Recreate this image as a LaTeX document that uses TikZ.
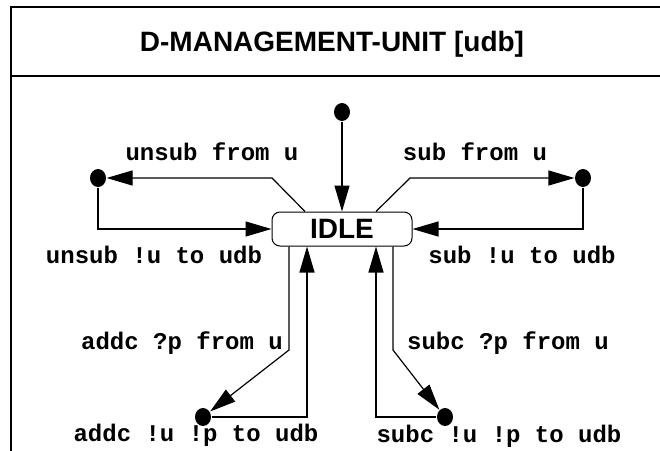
\documentclass[tikz,border=0pt]{standalone}
\usepackage{fontspec}
\setmainfont{Liberation Sans}
\newfontfamily\labelfont{Liberation Mono}
\usetikzlibrary{arrows.meta, positioning, calc, shapes.geometric}

\begin{document}
\begin{tikzpicture}[
        x=1pt, y=-1pt,
        line width=1.2pt,
        state/.style={
            draw,
            rounded corners=8pt,
            minimum width=140pt,
            minimum height=34pt,
            line width=1pt,
            font=\fontsize{28}{32}\selectfont\bfseries
        },
        dot/.style={
            ellipse,
            fill=black,
            inner sep=0pt,
            minimum width=16pt,
            minimum height=18pt
        },
        arrow/.style={
            -{Triangle[length=26pt, width=15pt]}
        },
        labeltext/.style={
            anchor=base,
            inner sep=0pt,
            font=\fontsize{24}{28}\labelfont\bfseries
        },
        titletext/.style={
            anchor=base,
            inner sep=0pt,
            font=\fontsize{28}{32}\selectfont\bfseries
        }
    ]

    \useasboundingbox (0,0) rectangle (660,450);
    \clip (0,0) rectangle (660,450);

    % frame with header
    \draw[line width=1.5pt] (11,470) -- (11,7) -- (680,7);
    \draw[line width=1.5pt] (11,76) -- (680,76);
    \node[titletext] (title) at (332,51) {D-MANAGEMENT-UNIT [udb]};

    \node[state] (idle) at (342,229) {IDLE};
    \node[dot] (init) at (342,112) {};
    \node[dot] (unsubdot) at (98,178) {};
    \node[dot] (subdot) at (583,178) {};
    \node[dot] (addcdot) at (203,417) {};
    \node[dot] (subcdot) at (445,417) {};

    \coordinate (unsubbend) at (272,178);
    \coordinate (subbend) at (410,178);
    \coordinate (addcbend) at (289,350);
    \coordinate (subcbend) at (393,350);

    \draw[arrow] (init) -- (idle);
    \draw[arrow] ([xshift=-37pt]idle.north) -- (unsubbend) -- (unsubdot);
    \draw[arrow] (unsubdot) |- (idle);
    \draw[arrow] ([xshift=34pt]idle.north) -- (subbend) -- (subdot);
    \draw[arrow] (subdot) |- (idle);
    \draw[arrow] ([xshift=-53pt]idle.south) -- (addcbend) -- (addcdot);
    \draw[arrow] (addcdot) -| ([xshift=-35pt]idle.south);
    \draw[arrow] ([xshift=51pt]idle.south) -- (subcbend) -- (subcdot);
    \draw[arrow] (subcdot) -| ([xshift=34pt]idle.south);

    \node[labeltext] (unsubin) at (212,160) {unsub from u};
    \node[labeltext] (subin) at (475,160) {sub from u};
    \node[labeltext] (unsubout) at (154,263) {unsub !u to udb};
    \node[labeltext] (subout) at (522,263) {sub !u to udb};
    \node[labeltext] (addcin) at (182,349) {addc ?p from u};
    \node[labeltext] (subcin) at (508,349) {subc ?p from u};
    \node[labeltext] (addcout) at (196,441) {addc !u !p to udb};
    \node[labeltext] (subcout) at (499,442) {subc !u !p to udb};

\end{tikzpicture}
\end{document}
